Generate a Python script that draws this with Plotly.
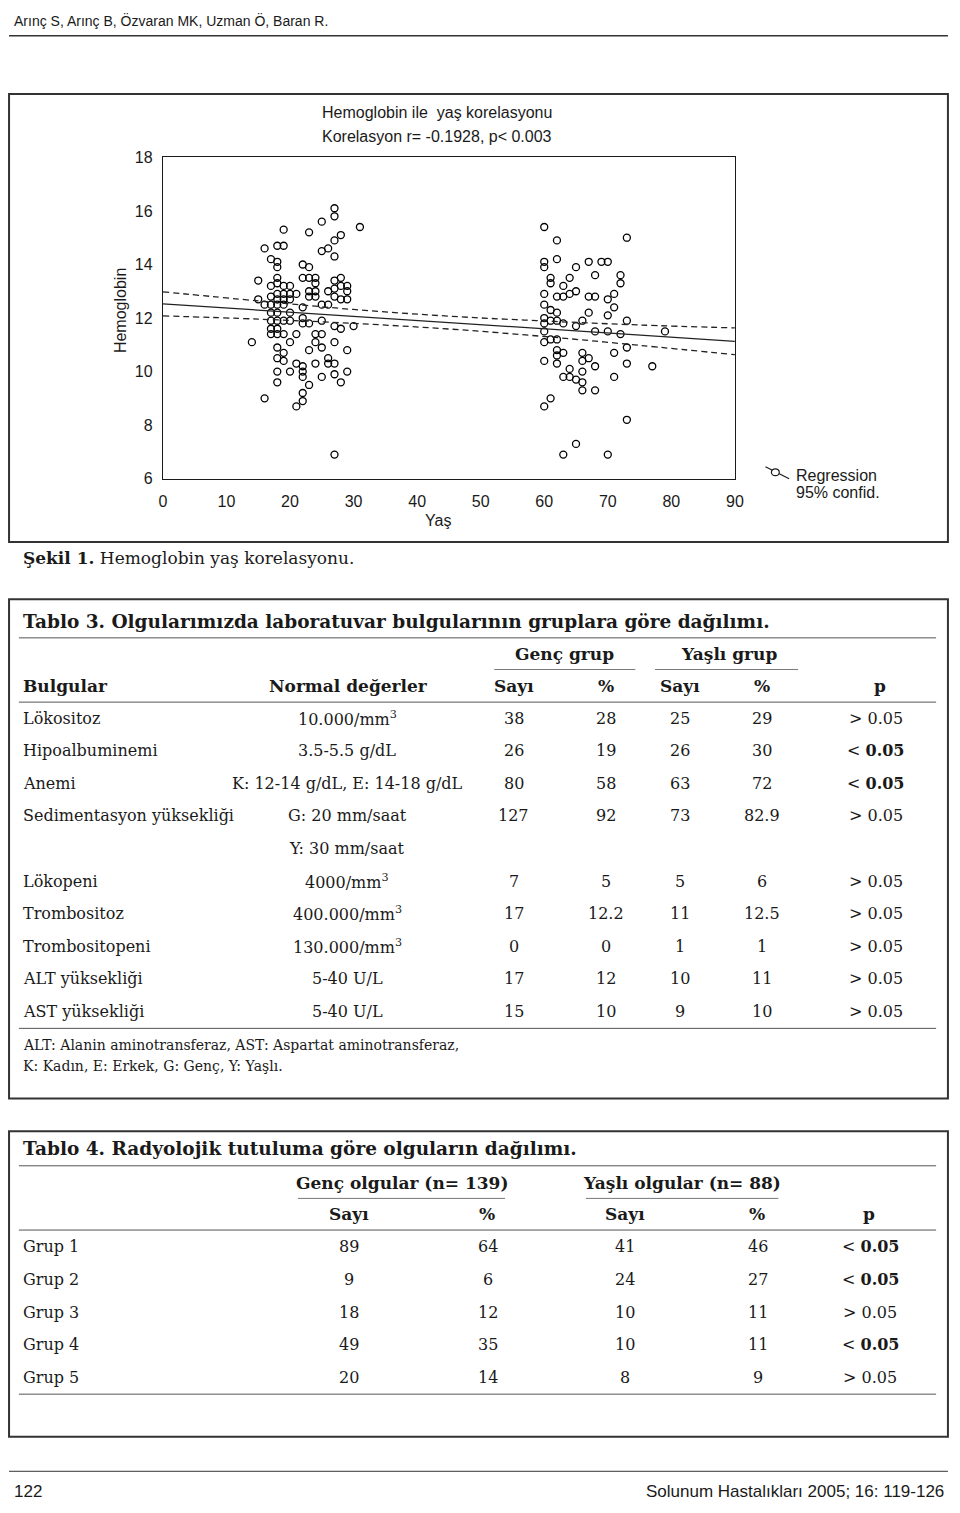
import plotly.graph_objects as go

# ---------------- data ----------------
young_age = [27, 27, 25, 31, 19, 23, 28, 27, 16, 18, 19, 25, 26, 27, 17, 18, 18, 22, 23, 15,
             18, 17, 18, 19, 20, 22, 23, 24, 24, 27, 28, 28, 29, 27, 26, 18, 19, 21, 23, 24, 29,
             15, 17, 20, 18, 19, 20, 23, 24, 27, 28, 29, 16, 17, 18, 19, 22, 25, 26, 17, 18, 20,
             22, 17, 18, 19, 20, 25, 22, 23, 27, 28, 30, 17, 18, 17, 18, 19, 21, 24, 25, 24, 20,
             14, 27, 18, 25, 23, 29, 19, 18, 19, 21, 22, 24, 26, 26, 27, 22, 18, 20, 25, 27, 29,
             22, 18, 23, 28, 22, 16, 22, 21, 27]
young_hb = [16.1, 15.8, 15.6, 15.4, 15.3, 15.2, 15.1, 14.9, 14.6, 14.7, 14.7, 14.5, 14.6, 14.3,
            14.2, 14.1, 13.9, 14.0, 13.9, 13.4, 13.5, 13.2, 13.3, 13.2, 13.2, 13.5, 13.5, 13.5,
            13.3, 13.4, 13.5, 13.2, 13.2, 13.1, 13.0, 12.9, 12.9, 12.9, 13.0, 13.0, 13.0,
            12.7, 12.8, 12.9, 12.7, 12.7, 12.7, 12.8, 12.8, 12.8, 12.7, 12.7, 12.5, 12.5, 12.5,
            12.5, 12.4, 12.5, 12.5, 12.2, 12.2, 12.2, 12.0, 11.9, 11.9, 11.9, 11.9, 11.9, 11.8,
            11.8, 11.7, 11.6, 11.7, 11.6, 11.6, 11.4, 11.4, 11.4, 11.4, 11.4, 11.4, 11.1, 11.1,
            11.1, 11.1, 10.9, 10.9, 10.8, 10.8, 10.7, 10.5, 10.4, 10.3, 10.2, 10.3, 10.5, 10.3,
            10.3, 10.0, 10.0, 10.0, 9.8, 9.9, 10.0, 9.8, 9.6, 9.5, 9.6, 9.2, 9.0, 8.9, 8.7, 6.9]

old_age = [60, 62, 73, 60, 60, 62, 65, 67, 69, 70, 68, 61, 61, 63, 64, 72, 72, 60, 62, 63, 64,
           65, 67, 68, 70, 71, 60, 61, 62, 60, 61, 62, 63, 60, 60, 60, 61, 62, 65, 66, 67, 70,
           71, 73, 68, 70, 72, 79, 73, 62, 63, 60, 62, 62, 66, 67, 66, 68, 71, 73, 77, 64, 63,
           64, 66, 71, 65, 66, 66, 68, 61, 60, 73, 65, 63, 70]
old_hb = [15.4, 14.9, 15.0, 14.1, 13.9, 14.2, 13.9, 14.1, 14.1, 14.1, 13.6, 13.5, 13.3, 13.2,
          13.5, 13.6, 13.3, 12.9, 12.8, 12.8, 12.9, 13.0, 12.8, 12.8, 12.7, 12.9, 12.5, 12.3,
          12.2, 12.0, 11.9, 11.9, 11.8, 11.8, 11.5, 11.1, 11.2, 11.2, 11.7, 11.9, 12.2, 12.1,
          12.4, 11.9, 11.5, 11.5, 11.4, 11.5, 10.9, 10.8, 10.7, 10.4, 10.6, 10.3, 10.7, 10.5,
          10.4, 10.2, 10.7, 10.3, 10.2, 10.1, 9.8, 9.8, 10.0, 9.8, 9.7, 9.6, 9.3, 9.3, 9.0,
          8.7, 8.2, 7.3, 6.9, 6.9]

reg_age = [0, 90]
reg_hb = [12.53, 11.13]
band_age = [0, 15, 30, 45, 60, 75, 90]
band_upper = [12.98, 12.64, 12.32, 12.07, 11.89, 11.74, 11.63]
band_lower = [12.08, 11.96, 11.80, 11.59, 11.31, 10.98, 10.63]

x_ticks = [0, 10, 20, 30, 40, 50, 60, 70, 80, 90]
y_ticks = [6, 8, 10, 12, 14, 16, 18]

chart_title = ["Hemoglobin ile  yaş korelasyonu", "Korelasyon r= -0.1928, p< 0.003"]

t3_title = "Tablo 3. Olgularımızda laboratuvar bulgularının gruplara göre dağılımı."
t3_groups = ["Genç grup", "Yaşlı grup"]
t3_headers = ["Bulgular", "Normal değerler", "Sayı", "%", "Sayı", "%", "p"]
t3_findings = ["Lökositoz", "Hipoalbuminemi", "Anemi", "Sedimentasyon yüksekliği", "",
               "Lökopeni", "Trombositoz", "Trombositopeni", "ALT yüksekliği", "AST yüksekliği"]
t3_normal = ["10.000/mm<sup>3</sup>", "3.5-5.5 g/dL", "K: 12-14 g/dL, E: 14-18 g/dL",
             "G: 20 mm/saat", "Y: 30 mm/saat", "4000/mm<sup>3</sup>", "400.000/mm<sup>3</sup>",
             "130.000/mm<sup>3</sup>", "5-40 U/L", "5-40 U/L"]
t3_young_n = ["38", "26", "80", "127", "", "7", "17", "0", "17", "15"]
t3_young_pct = ["28", "19", "58", "92", "", "5", "12.2", "0", "12", "10"]
t3_old_n = ["25", "26", "63", "73", "", "5", "11", "1", "10", "9"]
t3_old_pct = ["29", "30", "72", "82.9", "", "6", "12.5", "1", "11", "10"]
t3_p = ["> 0.05", "< <b>0.05</b>", "< <b>0.05</b>", "> 0.05", "", "> 0.05", "> 0.05",
        "> 0.05", "> 0.05", "> 0.05"]
t3_notes = ["ALT: Alanin aminotransferaz, AST: Aspartat aminotransferaz,",
            "K: Kadın, E: Erkek, G: Genç, Y: Yaşlı."]

t4_title = "Tablo 4. Radyolojik tutuluma göre olguların dağılımı."
t4_groups = ["Genç olgular (n= 139)", "Yaşlı olgular (n= 88)"]
t4_headers = ["Sayı", "%", "Sayı", "%", "p"]
t4_rows = ["Grup 1", "Grup 2", "Grup 3", "Grup 4", "Grup 5"]
t4_young_n = ["89", "9", "18", "49", "20"]
t4_young_pct = ["64", "6", "12", "35", "14"]
t4_old_n = ["41", "24", "10", "10", "8"]
t4_old_pct = ["46", "27", "11", "11", "9"]
t4_p = ["< <b>0.05</b>", "< <b>0.05</b>", "> 0.05", "< <b>0.05</b>", "> 0.05"]

header_text = "Arınç S, Arınç B, Özvaran MK, Uzman Ö, Baran R."
footer_left = "122"
footer_right = "Solunum Hastalıkları 2005; 16: 119-126"

# ---------------- layout helpers ----------------
# the page body keeps its default 8px margin, so the figure is 16px smaller
PAGE_W, PAGE_H, BODY_M = 960, 1513, 8
W, H = PAGE_W - 2 * BODY_M, PAGE_H - 2 * BODY_M
SANS = "Liberation Sans, Arial, sans-serif"
SERIF = "DejaVu Serif, serif"
INK = "#1a1a1a"


def px(x):
    return (x - BODY_M) / W


def py(y):
    return 1 - (y - BODY_M) / H


annotations = []
shapes = []


def text(x, y, s, size=16, family=SERIF, anchor="center", color=INK, bold=False):
    if bold:
        s = "<b>" + s + "</b>"
    annotations.append(dict(x=px(x), y=py(y), xref="paper", yref="paper", text=s,
                            showarrow=False, xanchor=anchor, yanchor="middle",
                            font=dict(family=family, size=size, color=color)))


def hline(x0, x1, y, width=1, color="#555"):
    shapes.append(dict(type="line", xref="paper", yref="paper", x0=px(x0), x1=px(x1),
                       y0=py(y), y1=py(y), line=dict(color=color, width=width)))


def box(x0, y0, x1, y1, width=2, color="#333"):
    shapes.append(dict(type="rect", xref="paper", yref="paper", x0=px(x0), x1=px(x1),
                       y0=py(y1), y1=py(y0), line=dict(color=color, width=width)))


# ---------------- figure ----------------
fig = go.Figure()
marker = dict(symbol="circle-open", size=7, color="black", line=dict(width=1.3, color="black"))
fig.add_trace(go.Scatter(x=young_age, y=young_hb, mode="markers", marker=marker,
                         showlegend=False, hoverinfo="x+y"))
fig.add_trace(go.Scatter(x=old_age, y=old_hb, mode="markers", marker=marker,
                         showlegend=False, hoverinfo="x+y"))
fig.add_trace(go.Scatter(x=reg_age, y=reg_hb, mode="lines", line=dict(color="#222", width=1.3),
                         showlegend=False, hoverinfo="skip"))
for band in (band_upper, band_lower):
    fig.add_trace(go.Scatter(x=band_age, y=band, mode="lines", line_shape="spline",
                             line=dict(color="#222", width=1.3, dash="6px,4px"),
                             showlegend=False, hoverinfo="skip"))

# page header / footer
text(8, 13, header_text, size=14, family=SANS, anchor="left")
hline(5, 957, 28, width=1.5, color="#333")
hline(5, 957, 1480, width=1, color="#333")
text(8, 1500, footer_left, size=17, family=SANS, anchor="left")
text(955, 1500, footer_right, size=17, family=SANS, anchor="right")

# figure box
box(5, 87, 957, 540)
text(439, 106, chart_title[0], size=16, family=SANS)
text(439, 130, chart_title[1], size=16, family=SANS)
annotations.append(dict(x=px(118), y=py(306), xref="paper", yref="paper", text="Hemoglobin",
                        textangle=-90, showarrow=False, xanchor="center", yanchor="middle",
                        font=dict(family=SANS, size=16, color=INK)))
text(440, 518, "Yaş", size=16, family=SANS)
# legend glyph
shapes.append(dict(type="line", xref="paper", yref="paper", x0=px(772), y0=py(464),
                   x1=px(796), y1=py(476), line=dict(color=INK, width=1.2)))
shapes.append(dict(type="circle", xref="paper", yref="paper", x0=px(778), x1=px(786),
                   y0=py(473), y1=py(466), line=dict(color=INK, width=1.2), fillcolor="white"))
text(801, 473, "Regression", size=16, family=SANS, anchor="left")
text(801, 490, "95% confid.", size=16, family=SANS, anchor="left")

# caption
text(17, 556, "<b>Şekil 1.</b> Hemoglobin yaş korelasyonu.", size=17, family=SERIF, anchor="left")

# ---------------- Table 3 ----------------
box(5, 598, 957, 1103)
text(17, 620, t3_title, size=18.5, bold=True, anchor="left")
hline(15, 945, 637)
text(568, 653, t3_groups[0], size=17, bold=True)
text(735, 653, t3_groups[1], size=17, bold=True)
hline(497, 640, 669, width=0.8)
hline(660, 805, 669, width=0.8)
hdr_x = [17, 349, 517, 610, 685, 768, 888]
for i, (hx, h) in enumerate(zip(hdr_x, t3_headers)):
    text(hx, 686, h, size=17, bold=True, anchor="left" if i == 0 else "center")
hline(15, 945, 702)
row_y = [719, 751, 784, 817, 850, 883, 916, 949, 982, 1015]
for i, ry in enumerate(row_y):
    text(17, ry, t3_findings[i], size=16, anchor="left")
    text(348, ry, t3_normal[i], size=16)
    text(517, ry, t3_young_n[i], size=16)
    text(610, ry, t3_young_pct[i], size=16)
    text(685, ry, t3_old_n[i], size=16)
    text(768, ry, t3_old_pct[i], size=16)
    text(884, ry, t3_p[i], size=16)
hline(15, 945, 1032)
text(17, 1049, t3_notes[0], size=14, anchor="left")
text(17, 1070, t3_notes[1], size=14, anchor="left")

# ---------------- Table 4 ----------------
box(5, 1136, 957, 1445)
text(17, 1154, t4_title, size=18.5, bold=True, anchor="left")
hline(15, 945, 1171)
text(403, 1188, t4_groups[0], size=17, bold=True)
text(687, 1188, t4_groups[1], size=17, bold=True)
hline(298, 508, 1204, width=0.8)
hline(590, 785, 1204, width=0.8)
t4_x = [350, 490, 630, 763, 877]
for hx, h in zip(t4_x, t4_headers):
    text(hx, 1220, h, size=17, bold=True)
hline(15, 945, 1236)
t4_y = [1253, 1286, 1319, 1352, 1385]
for i, ry in enumerate(t4_y):
    text(17, ry, t4_rows[i], size=16, anchor="left")
    text(350, ry, t4_young_n[i], size=16)
    text(491, ry, t4_young_pct[i], size=16)
    text(630, ry, t4_old_n[i], size=16)
    text(764, ry, t4_old_pct[i], size=16)
    text(878, ry, t4_p[i], size=16)
hline(15, 945, 1402)

fig.update_layout(
    width=W, height=H, margin=dict(l=0, r=0, t=0, b=0),
    paper_bgcolor="white", plot_bgcolor="white",
    xaxis=dict(domain=[px(161), px(741)], range=[0, 90], tickvals=x_ticks,
               showgrid=False, zeroline=False, showline=True, mirror=True,
               linecolor=INK, linewidth=1.2, ticks="", ticklabelstandoff=8,
               tickfont=dict(family=SANS, size=16, color=INK), fixedrange=True),
    yaxis=dict(domain=[py(476), py(151)], range=[6, 18], tickvals=y_ticks,
               showgrid=False, zeroline=False, showline=True, mirror=True,
               linecolor=INK, linewidth=1.2, ticks="", ticklabelstandoff=6,
               tickfont=dict(family=SANS, size=16, color=INK), fixedrange=True),
    annotations=annotations, shapes=shapes, showlegend=False,
)

fig.write_html("out.html", config={"displayModeBar": False})
